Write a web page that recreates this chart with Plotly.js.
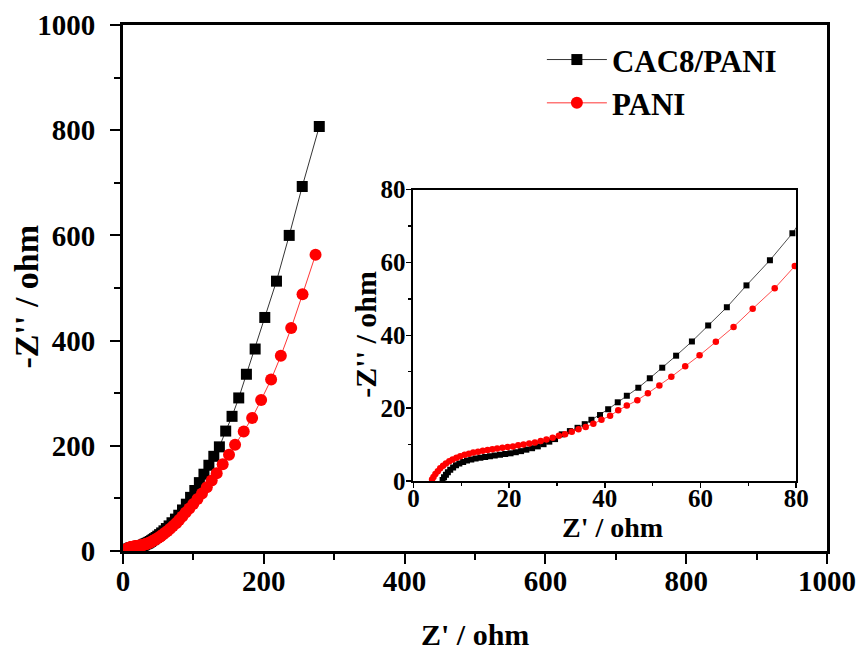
<!DOCTYPE html>
<html>
<head>
<meta charset="utf-8">
<script src="https://cdn.plot.ly/plotly-3.0.1.min.js"></script>
<style>
  html, body { margin: 0; padding: 0; background: #fff; }
  #chart { width: 868px; height: 652px; }
</style>
</head>
<body>
<div id="chart"></div>
<script>
// Nyquist data, Z' (ohm) vs -Z'' (ohm)
const cacX = [6.1, 6.4, 6.8, 7.2, 7.7, 8.3, 8.9, 9.6, 10.4, 11.2, 12.1, 13.0, 14.0, 15.0, 16.0, 17.0,
  18.1, 19.2, 20.3, 21.4, 22.5, 23.6, 24.8, 26.0, 27.2, 28.4, 29.6, 31.0, 32.7, 34.3, 35.8, 37.2,
  39.0, 40.7, 42.7, 44.6, 47.0, 49.4, 52.0, 54.9, 58.2, 61.6, 65.5, 69.6, 74.5, 79.2, 84.5, 90.0,
  96.0, 102.0, 108.5, 115.0, 122.0, 129.0, 136.9, 145.9, 154.9, 164.4, 175.3, 187.7, 201.4, 218.0,
  236.1, 254.6, 278.8];
const cacY = [0.3, 1.0, 1.7, 2.4, 3.1, 3.7, 4.3, 4.8, 5.2, 5.6, 5.9, 6.2, 6.4, 6.6, 6.8, 7.0,
  7.2, 7.4, 7.6, 7.9, 8.2, 8.6, 9.0, 9.5, 10.1, 10.8, 11.5, 12.8, 13.7, 14.6, 15.6, 16.8,
  18.1, 19.7, 21.6, 23.4, 25.6, 28.2, 31.1, 34.4, 38.3, 42.7, 47.7, 53.7, 60.6, 68.0, 78.0, 89.0,
  102.0, 115.0, 130.0, 146.0, 163.0, 180.0, 198.0, 228.0, 256.0, 291.0, 336.0, 384.0, 444.0, 513.0,
  600.0, 693.0, 807.0];

const paniX = [3.9, 4.2, 4.6, 5.1, 5.6, 6.2, 6.8, 7.5, 8.2, 9.0, 9.8, 10.7, 11.6, 12.5, 13.5, 14.5,
  15.5, 16.5, 17.5, 18.6, 19.7, 20.8, 21.9, 23.0, 24.2, 25.4, 26.6, 27.8, 29.1, 30.4, 31.7, 33.1,
  34.5, 36.0, 37.6, 39.3, 41.1, 42.8, 44.6, 46.8, 49.0, 51.4, 53.9, 56.8, 59.8, 63.2, 66.9, 70.9,
  75.5, 79.7, 84.2, 89.0, 94.2, 99.8, 105.8, 112.2, 119.0, 126.0, 133.1, 141.6, 150.6, 159.2, 171.5,
  183.4, 196.2, 210.4, 224.2, 238.9, 255.0, 273.5];
const paniY = [0.4, 1.1, 1.9, 2.7, 3.5, 4.2, 4.8, 5.4, 5.9, 6.4, 6.8, 7.2, 7.5, 7.8, 8.0, 8.3,
  8.5, 8.7, 8.9, 9.1, 9.3, 9.5, 9.8, 10.0, 10.3, 10.6, 11.0, 11.4, 11.9, 12.4, 12.8, 13.5,
  14.2, 14.8, 15.7, 16.8, 17.9, 19.4, 20.7, 22.2, 24.1, 26.2, 28.6, 31.5, 34.5, 38.2, 42.3, 47.3,
  52.9, 59.0, 65.8, 73.0, 81.0, 89.5, 99.0, 109.5, 121.0, 134.0, 148.0, 165.0, 183.0, 202.0, 227.0,
  253.0, 287.0, 326.0, 371.0, 424.0, 488.0, 563.0];

const seriesNames = ['CAC8/PANI', 'PANI'];

// axis ranges and tick steps: [min, max, major step, minor step]
const mainScale = [0, 1000, 200, 100];
const insetScale = [0, 80, 20, 10];

const FONT = 'Liberation Serif, "Times New Roman", Times, serif';

const traces = [
  {
    x: cacX, y: cacY, name: seriesNames[0], xaxis: 'x', yaxis: 'y',
    mode: 'lines+markers', legendgroup: 'a',
    line: {color: '#000000', width: 0.8},
    marker: {symbol: 'square', size: 11, color: '#000000', line: {width: 0}}
  },
  {
    x: paniX, y: paniY, name: seriesNames[1], xaxis: 'x', yaxis: 'y',
    mode: 'lines+markers', legendgroup: 'b',
    line: {color: '#ff0000', width: 0.8},
    marker: {symbol: 'circle', size: 12, color: '#ff0000', line: {width: 0}}
  },
  {
    x: cacX, y: cacY, name: seriesNames[0], xaxis: 'x2', yaxis: 'y2',
    mode: 'lines+markers', showlegend: false,
    line: {color: '#000000', width: 0.7},
    marker: {symbol: 'square', size: 6, color: '#000000', line: {width: 0}}
  },
  {
    x: paniX, y: paniY, name: seriesNames[1], xaxis: 'x2', yaxis: 'y2',
    mode: 'lines+markers', showlegend: false,
    line: {color: '#ff0000', width: 0.7},
    marker: {symbol: 'circle', size: 6.5, color: '#ff0000', line: {width: 0}}
  }
];

function makeAxis(scale, style, standoff, extra) {
  return Object.assign({
    range: [scale[0], scale[1]], tickmode: 'linear', tick0: scale[0], dtick: scale[2],
    showgrid: false, zeroline: false, showline: true, mirror: true,
    linewidth: style.lw, linecolor: '#000',
    ticks: 'outside', ticklen: style.tl, tickwidth: style.tw, tickcolor: '#000',
    ticklabelstandoff: standoff,
    minor: {dtick: scale[3], ticks: 'outside', ticklen: style.ml, tickwidth: style.tw, tickcolor: '#000', showgrid: false},
    tickfont: {family: FONT, size: style.fs, color: '#000', weight: 'bold'},
    fixedrange: true
  }, extra);
}

const mainStyle = {lw: 3, tl: 10, tw: 2, ml: 6, fs: 29};
const insetStyle = {lw: 2, tl: 5, tw: 1.5, ml: 3.5, fs: 25};

const layout = {
  width: 868, height: 652,
  margin: {l: 122.5, r: 40.5, t: 24.7, b: 101.3, pad: 0},
  paper_bgcolor: '#ffffff', plot_bgcolor: 'rgba(0,0,0,0)',
  font: {family: FONT, color: '#000'},
  xaxis: makeAxis(mainScale, mainStyle, -8, {domain: [0, 1], anchor: 'y'}),
  yaxis: makeAxis(mainScale, mainStyle, 9, {domain: [0, 1], anchor: 'x'}),
  xaxis2: makeAxis(insetScale, insetStyle, -11, {domain: [0.4125, 0.9563], anchor: 'y2'}),
  yaxis2: makeAxis(insetScale, insetStyle, -4, {domain: [0.1331, 0.6871], anchor: 'x2'}),
  showlegend: true,
  legend: {
    x: 0.595, y: 0.985, xanchor: 'left', yanchor: 'top',
    bgcolor: 'rgba(0,0,0,0)', borderwidth: 0,
    font: {family: FONT, size: 31, color: '#000', weight: 'bold'},
    tracegroupgap: 0, itemsizing: 'trace', itemwidth: 60
  },
  annotations: [
    {text: "Z' / ohm", xref: 'paper', yref: 'paper', x: 0.5, y: -0.159,
     xanchor: 'center', yanchor: 'middle', showarrow: false,
     font: {family: FONT, size: 30, weight: 'bold', color: '#000'}},
    {text: "-Z'' / ohm", xref: 'paper', yref: 'paper', x: -0.137, y: 0.483,
     xanchor: 'center', yanchor: 'middle', textangle: -90, showarrow: false,
     font: {family: FONT, size: 34, weight: 'bold', color: '#000'}},
    {text: "Z' / ohm", xref: 'paper', yref: 'paper', x: 0.695, y: 0.045,
     xanchor: 'center', yanchor: 'middle', showarrow: false,
     font: {family: FONT, size: 28, weight: 'bold', color: '#000'}},
    {text: "-Z'' / ohm", xref: 'paper', yref: 'paper', x: 0.345, y: 0.413,
     xanchor: 'center', yanchor: 'middle', textangle: -90, showarrow: false,
     font: {family: FONT, size: 30, weight: 'bold', color: '#000'}}
  ]
};

Plotly.newPlot('chart', traces, layout, {staticPlot: true, displayModeBar: false});
</script>
</body>
</html>
